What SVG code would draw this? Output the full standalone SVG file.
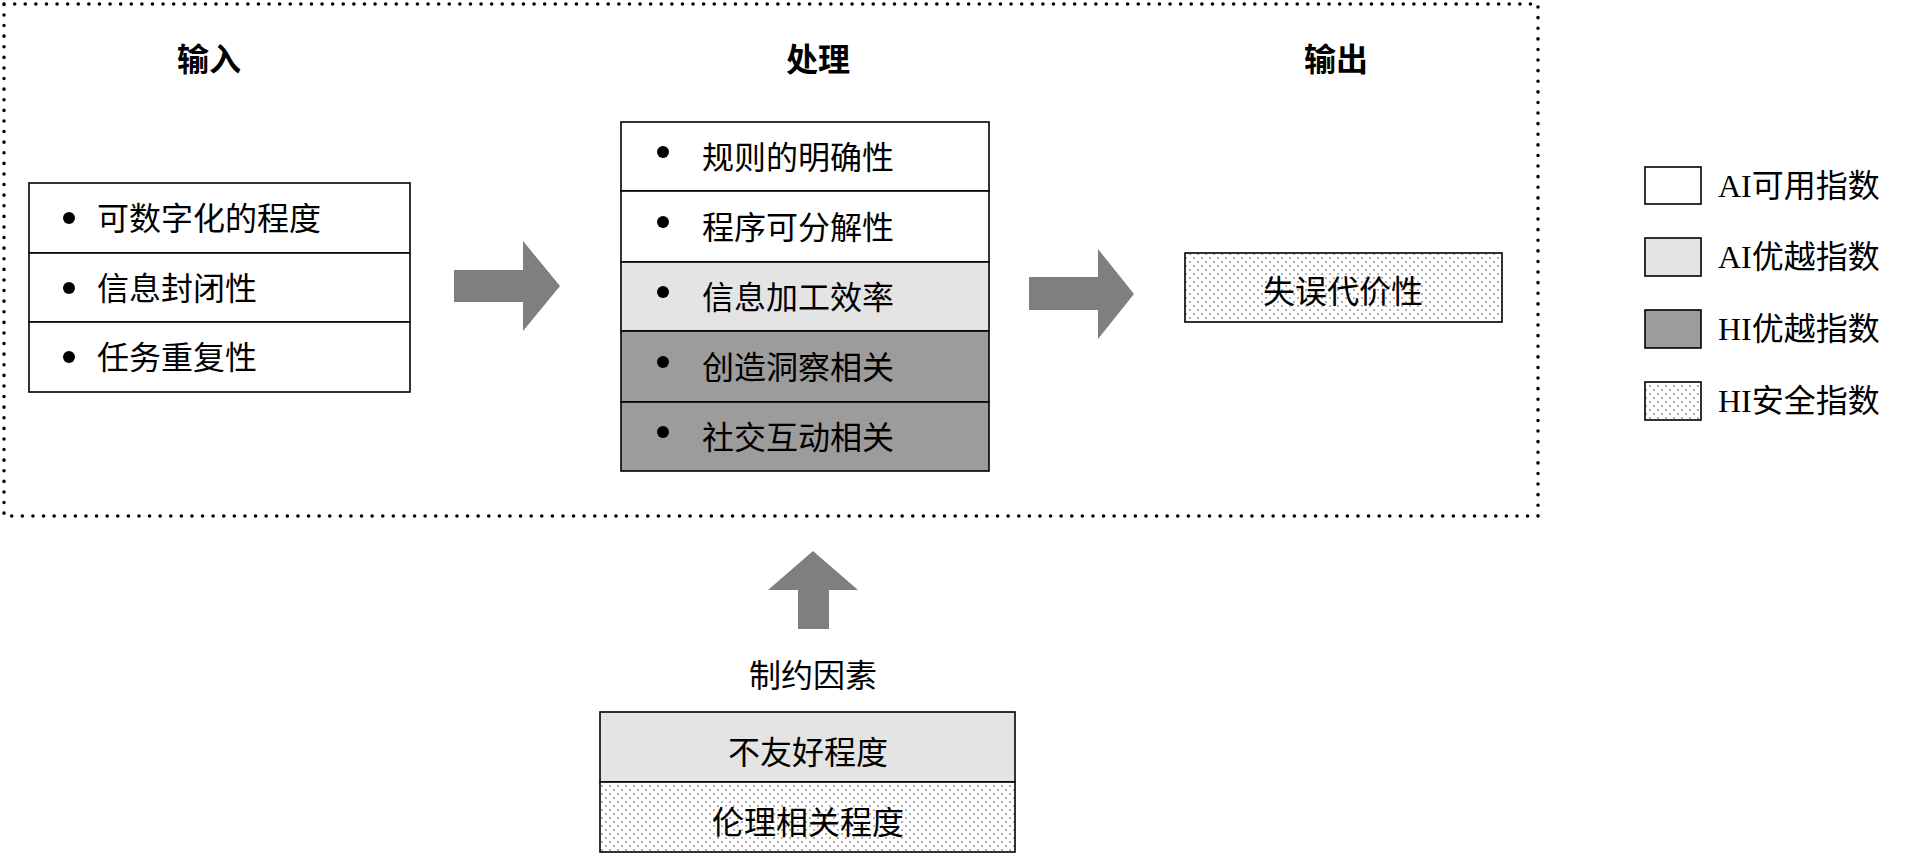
<svg xmlns="http://www.w3.org/2000/svg" width="1908" height="856" viewBox="0 0 1908 856">
<style>
text{font-family:"Noto Sans CJK SC","Liberation Serif",serif;font-size:32px;fill:#000;dominant-baseline:central}
.t{font-weight:bold;text-anchor:middle}
.c{text-anchor:middle}
.lg{font-family:"Liberation Serif","Noto Sans CJK SC",serif}
.b{stroke:#000;stroke-width:1.6}
.w{fill:#fff}.l{fill:#e4e4e4}.d{fill:#9c9c9c}.p{fill:url(#dots)}
.arr{fill:#7f7f7f}
</style>
<defs>
<pattern id="dots" width="8" height="8" patternUnits="userSpaceOnUse">
<rect width="8" height="8" fill="#fff"/>
<circle cx="2" cy="2" r="0.9" fill="#888"/><circle cx="6" cy="6" r="0.9" fill="#888"/>
</pattern>
</defs>
<rect x="4" y="4" width="1534" height="512" fill="none" stroke="#000" stroke-width="3.5" stroke-dasharray="0.1 10.5" stroke-linecap="round"/>
<text class="t" x="209" y="57">输入</text>
<text class="t" x="818" y="57">处理</text>
<text class="t" x="1336" y="57">输出</text>
<g id="input">
<rect class="b w" x="29" y="183" width="381" height="70"/>
<rect class="b w" x="29" y="253" width="381" height="69"/>
<rect class="b w" x="29" y="322" width="381" height="70"/>
<circle cx="69" cy="218" r="6"/><text x="97" y="216">可数字化的程度</text>
<circle cx="69" cy="288" r="6"/><text x="97" y="286">信息封闭性</text>
<circle cx="69" cy="357" r="6"/><text x="97" y="355">任务重复性</text>
</g>
<g id="process">
<rect class="b w" x="621" y="122" width="368" height="69"/>
<rect class="b w" x="621" y="191" width="368" height="71"/>
<rect class="b l" x="621" y="262" width="368" height="69"/>
<rect class="b d" x="621" y="331" width="368" height="71"/>
<rect class="b d" x="621" y="402" width="368" height="69"/>
<circle cx="663" cy="152" r="6"/><text x="702" y="155">规则的明确性</text>
<circle cx="663" cy="222" r="6"/><text x="702" y="225">程序可分解性</text>
<circle cx="663" cy="292" r="6"/><text x="702" y="295">信息加工效率</text>
<circle cx="663" cy="362" r="6"/><text x="702" y="365">创造洞察相关</text>
<circle cx="663" cy="432" r="6"/><text x="702" y="435">社交互动相关</text>
</g>
<g id="output">
<rect class="b p" x="1185" y="253" width="317" height="69"/>
<text class="c" x="1343" y="289">失误代价性</text>
</g>
<g id="legend">
<rect class="b w" x="1645" y="167" width="56" height="37"/><text class="lg" x="1718" y="186">AI可用指数</text>
<rect class="b l" x="1645" y="238" width="56" height="38"/><text class="lg" x="1718" y="257">AI优越指数</text>
<rect class="b d" x="1645" y="310" width="56" height="38"/><text class="lg" x="1718" y="329">HI优越指数</text>
<rect class="b p" x="1645" y="382" width="56" height="38"/><text class="lg" x="1718" y="401">HI安全指数</text>
</g>
<g id="constraint">
<text class="c" x="813" y="673">制约因素</text>
<rect class="b l" x="600" y="712" width="415" height="70"/>
<rect class="b p" x="600" y="782" width="415" height="70"/>
<text class="c" x="808" y="750">不友好程度</text>
<text class="c" x="808" y="820">伦理相关程度</text>
</g>
<g id="connectors">
<polygon class="arr" points="454,270 523,270 523,241 560,286 523,331 523,302 454,302"/>
<polygon class="arr" points="1029,277 1098,277 1098,249 1134,294 1098,339 1098,310 1029,310"/>
<polygon class="arr" points="798,629 798,590 768,590 813,551 858,590 829,590 829,629"/>
</g>
</svg>
